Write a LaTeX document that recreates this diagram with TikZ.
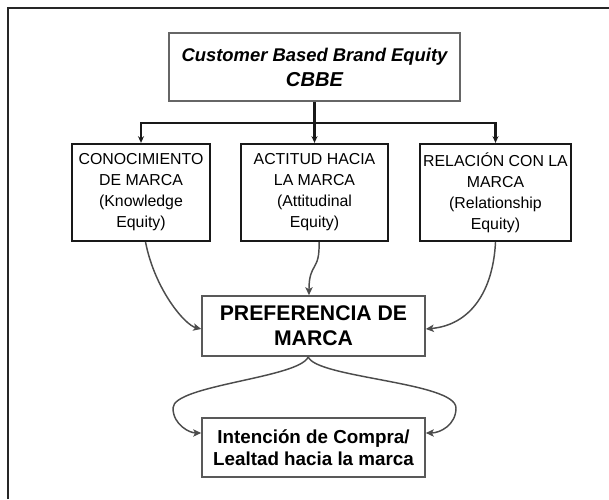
\documentclass[tikz,border=0pt]{standalone}
\usepackage{fontspec}
\setmainfont{Liberation Sans}
\usetikzlibrary{arrows.meta,positioning}

\begin{document}
\begin{tikzpicture}
    \tikzset{x=0.75pt,y=-0.75pt,every path/.style={>={Stealth[length=5pt,width=4.5pt]}},
      top box/.style={draw=black!60,line width=1.2pt,inner sep=0pt,align=center,minimum width=218pt,minimum height=51pt},
      dim box/.style={draw=black!90,line width=1.7pt,inner sep=0pt,align=center,minimum height=72.75pt,font=\fontsize{11.9}{15.75}\selectfont},
      low box/.style={draw=black!65,line width=1.2pt,inner sep=0pt,align=center,minimum width=167.25pt},
      link/.style={->,draw=black!70,line width=1.1pt,>={Stealth[length=6pt,width=5.5pt,inset=1.5pt]}},
      tree/.style={draw=black!90,line width=1.6pt}}
    \useasboundingbox (0,0) rectangle (609,499);
    % frame, only top and left side show
    \draw [line width=1.6pt,black!85] (8,499) -- (8,8) -- (609,8);

    \node [top box,font=\bfseries\itshape\fontsize{13.8}{18.75}\selectfont] (cbbe) at (314.5,67)
        {Customer Based Brand Equity\\{\fontsize{15.1}{18.75}\selectfont CBBE}};
    \node [dim box,minimum width=103.5pt] (know) at (141,192.5) {CONOCIMIENTO\\DE MARCA\\(Knowledge\\Equity)};
    \node [dim box,minimum width=110.25pt] (att) at (314.5,192.5) {ACTITUD HACIA\\LA MARCA\\(Attitudinal\\Equity)};
    \node [dim box,minimum width=113.25pt] (rel) at (495.5,192.5) {RELACIÓN CON LA\\MARCA\\(Relationship\\Equity)};
    \node [low box,minimum height=45pt,font=\bfseries\fontsize{15.9}{18.75}\selectfont] (pref) at (313.5,326)
        {PREFERENCIA DE\\MARCA};
    \node [low box,minimum height=44.25pt,font=\bfseries\fontsize{14.1}{16.3}\selectfont] (int) at (313.5,447.5)
        {Intención de Compra/\\Lealtad hacia la marca};

    \coordinate (split) at (314.5,123);
    \draw [tree] (cbbe.south) -- (split);
    \draw [tree,->] (split) -| (know.north);
    \draw [tree,->] (split) -- (att.north);
    \draw [tree,->] (split) -| (rel.north);

    \draw [link] ([xshift=3.4pt]know.south) .. controls (155,290) and (185,325) .. ([yshift=-2.25pt]pref.west);
    \draw [link] ([xshift=3.4pt]att.south) .. controls (320,272) and (309,262) .. ([xshift=-3.4pt]pref.north);
    \draw [link] (rel.south) .. controls (493,292) and (470,325) .. ([yshift=-2.25pt]pref.east);

    \draw [link] ([xshift=-4pt]pref.south) .. controls (300,378) and (173,385) .. (173,408)
        .. controls (173,425) and (190,433) .. ([yshift=10.9pt]int.west);
    \draw [link] ([xshift=-4pt]pref.south) .. controls (316,378) and (456,382) .. (456,408)
        .. controls (456,425) and (440,433) .. ([yshift=10.9pt]int.east);
\end{tikzpicture}
\end{document}
